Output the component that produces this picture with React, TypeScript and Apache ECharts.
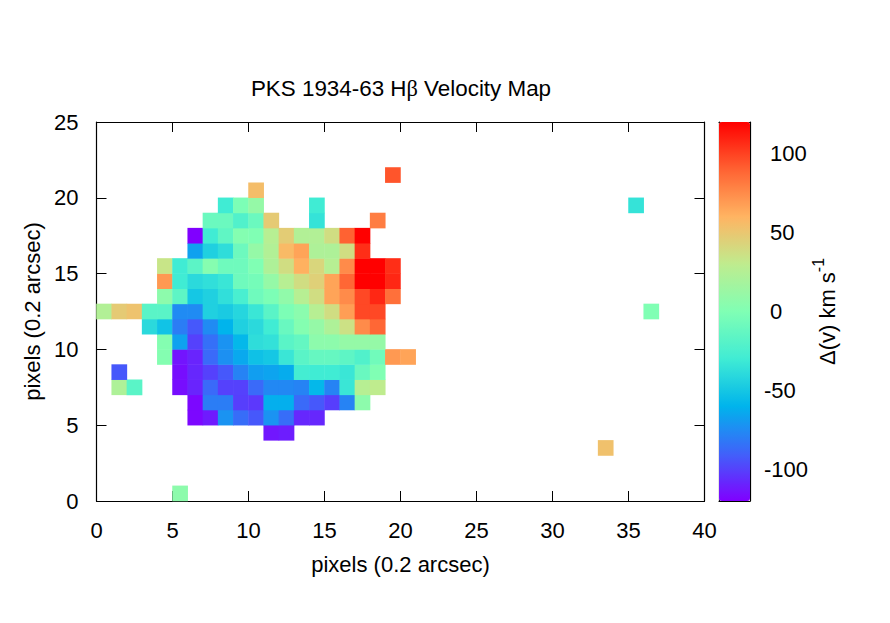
import React, { useEffect, useRef } from "react";
import * as echarts from "echarts";

type Cell = [number, number];

const titleText = "PKS 1934-63 H";
const titleEnd = " Velocity Map";
const xName = "pixels (0.2 arcsec)";
const yName = "pixels (0.2 arcsec)";
const barTicks = [-100, -50, 0, 50, 100];
const barLabelsUpper = [0, 50, 100];
const barLabelsLower = [-100, -50];
const xCount = 40;
const yCount = 25;
const rainbow = ["#8000ff", "#4062fa", "#00b4ec", "#40ecd4", "#80ffb4", "#bfec8e", "#ffb462", "#ff6232", "#ff0000"];

// [column, velocity] for each row of the map
const row0: Cell[] = [[5, 6]];
const row3: Cell[] = [[33, 53]];
const row4: Cell[] = [[11, -113], [12, -111]];
const row5: Cell[] = [[6, -118], [7, -112], [8, -72], [9, -86], [10, -93], [11, -72], [12, -86], [13, -108], [14, -108]];
const row6: Cell[] = [[6, -118], [7, -80], [8, -80], [9, -101], [10, -103], [11, -62], [12, -62], [13, -87], [14, -93], [15, -101], [16, -78], [17, 6]];
const row7: Cell[] = [[1, 22], [2, -18], [5, -116], [6, -109], [7, -87], [8, -100], [9, -100], [10, -87], [11, -76], [12, -76], [13, -78], [14, -58], [15, -78], [16, -33], [17, 26], [18, 30]];
const row8: Cell[] = [[1, -93], [5, -116], [6, -108], [7, -100], [8, -93], [9, -78], [10, -68], [11, -66], [12, -63], [13, -28], [14, -30], [15, -30], [16, -33], [17, -11], [18, 0]];
const row9: Cell[] = [[4, 2], [5, -114], [6, -109], [7, -87], [8, -73], [9, -64], [10, -53], [11, -50], [12, -33], [13, -18], [14, -12], [15, -12], [16, -16], [17, -22], [18, -7], [19, 70], [20, 66]];
const row10: Cell[] = [[4, 2], [5, -67], [6, -100], [7, -85], [8, -72], [9, -58], [10, -38], [11, -36], [12, -18], [13, -13], [14, 6], [15, 6], [16, 10], [17, 10], [18, 10]];
const row11: Cell[] = [[3, -40], [4, -52], [5, -80], [6, -93], [7, -75], [8, -60], [9, -45], [10, -40], [11, -30], [12, -11], [13, 2], [14, 10], [15, 22], [16, 36], [17, 75], [18, 88]];
const row12: Cell[] = [[0, 24], [1, 48], [2, 52], [3, -18], [4, -18], [5, -75], [6, -75], [7, -45], [8, -48], [9, -42], [10, -33], [11, -18], [12, -2], [13, 5], [14, 26], [15, 38], [16, 68], [17, 98], [18, 98], [36, 0]];
const row13: Cell[] = [[4, 6], [5, -16], [6, -50], [7, -45], [8, -37], [9, -26], [10, -8], [11, -2], [12, 8], [13, 26], [14, 38], [15, 66], [16, 75], [17, 98], [18, 108], [19, 85]];
const row14: Cell[] = [[4, 70], [5, -30], [6, -40], [7, -37], [8, -33], [9, -8], [10, -5], [11, 10], [12, 26], [13, 38], [14, 45], [15, 66], [16, 88], [17, 120], [18, 120], [19, 108]];
const row15: Cell[] = [[4, 34], [5, -30], [6, -17], [7, 3], [8, -8], [9, -8], [10, 0], [11, 22], [12, 38], [13, 61], [14, 42], [15, 26], [16, 75], [17, 120], [18, 120], [19, 106]];
const row16: Cell[] = [[6, -67], [7, -45], [8, -38], [9, -9], [10, 10], [11, 24], [12, 57], [13, 66], [14, 22], [15, 22], [16, 38], [17, 106]];
const row17: Cell[] = [[6, -120], [7, -30], [8, -15], [9, 2], [10, 0], [11, 26], [12, 47], [13, 24], [14, 24], [15, 38], [16, 90], [17, 120]];
const row18: Cell[] = [[7, -10], [8, -10], [9, -22], [10, -10], [11, 48], [14, -35], [18, 80]];
const row19: Cell[] = [[8, -30], [9, -2], [10, 10], [14, -30], [35, -35]];
const row20: Cell[] = [[10, 55]];
const row21: Cell[] = [[19, 94]];

const rows: [number, Cell[]][] = [
  [0, row0], [3, row3], [4, row4], [5, row5], [6, row6], [7, row7], [8, row8], [9, row9], [10, row10],
  [11, row11], [12, row12], [13, row13], [14, row14], [15, row15], [16, row16], [17, row17], [18, row18],
  [19, row19], [20, row20], [21, row21],
];

const FONT = "'Liberation Sans', Arial, sans-serif";
const BLACK = "#000";
const line = { show: true, onZero: false, lineStyle: { color: BLACK, width: 1.2 } };
const tick = (length: number) => ({ show: true, inside: true, length, lineStyle: { color: BLACK, width: 1 } });
const label = { show: true, color: BLACK, fontFamily: FONT, fontSize: 22 };

export default function App() {
  const ref = useRef<HTMLDivElement>(null);
  useEffect(() => {
    const chart = echarts.init(ref.current!, undefined, { renderer: "svg" });
    const data = rows.flatMap(([y, cells]) => cells.map(([x, v]) => [x, y, v]));
    const nameStyle = { color: BLACK, fontFamily: FONT, fontSize: 22 };
    chart.setOption({
      animation: false,
      backgroundColor: "#fff",
      title: {
        text: `{a|${titleText}}{b|β}{a|${titleEnd}}`,
        left: 396,
        top: 72,
        textAlign: "center",
        textStyle: {
          fontWeight: "normal",
          rich: {
            a: { fontFamily: FONT, fontSize: 22.4, fontWeight: "normal", color: BLACK },
            b: { fontFamily: "'Liberation Serif', serif", fontSize: 22.4, fontWeight: "normal", color: BLACK },
          },
        },
      },
      grid: [
        { left: 96.5, top: 122, width: 608, height: 379 },
        { left: 719, top: 122, width: 31, height: 379 },
      ],
      xAxis: [
        { type: "category", gridIndex: 0, show: false, data: Array.from({ length: xCount }, (_, i) => String(i)) },
        { type: "value", gridIndex: 0, position: "bottom", min: 0, max: 40, interval: 5, splitLine: { show: false }, axisLine: line, axisTick: tick(10), axisLabel: { ...label, margin: 18 }, name: xName, nameLocation: "middle", nameGap: 52, nameTextStyle: nameStyle },
        { type: "value", gridIndex: 0, position: "top", min: 0, max: 40, interval: 5, splitLine: { show: false }, axisLine: line, axisTick: tick(10), axisLabel: { show: false } },
        { type: "value", gridIndex: 1, position: "bottom", min: 0, max: 1, splitLine: { show: false }, axisLine: line, axisTick: { show: false }, axisLabel: { show: false } },
        { type: "value", gridIndex: 1, position: "top", min: 0, max: 1, splitLine: { show: false }, axisLine: line, axisTick: { show: false }, axisLabel: { show: false } },
      ],
      yAxis: [
        { type: "category", gridIndex: 0, show: false, data: Array.from({ length: yCount }, (_, i) => String(i)) },
        { type: "value", gridIndex: 0, position: "left", min: 0, max: 25, interval: 5, splitLine: { show: false }, axisLine: line, axisTick: tick(10), axisLabel: { ...label, margin: 18, padding: [0, 0, 2, 0] }, name: yName, nameLocation: "middle", nameGap: 52, nameRotate: 90, nameTextStyle: nameStyle },
        { type: "value", gridIndex: 0, position: "right", min: 0, max: 25, interval: 5, splitLine: { show: false }, axisLine: line, axisTick: tick(10), axisLabel: { show: false } },
        { type: "value", gridIndex: 1, position: "left", min: -120, max: 120, splitLine: { show: false }, axisLine: line, axisTick: { ...tick(8), customValues: barTicks }, axisLabel: { show: false } },
        {
          type: "value", gridIndex: 1, position: "right", min: -120, max: 120, splitLine: { show: false }, axisLine: line,
          axisTick: { ...tick(8), customValues: barTicks },
          axisLabel: { ...label, margin: 20, padding: [0, 0, 2, 0], customValues: barLabelsUpper },
          name: "{a|Δ(v) km s}{s|-1}", nameLocation: "middle", nameGap: 58, nameRotate: 90,
          nameTextStyle: {
            ...nameStyle,
            rich: {
              a: { fontFamily: FONT, fontSize: 22, color: BLACK, lineHeight: 28, verticalAlign: "bottom" },
              s: { fontFamily: FONT, fontSize: 16, color: BLACK, lineHeight: 28, verticalAlign: "top" },
            },
          },
        },
        {
          type: "value", gridIndex: 1, position: "right", min: -120, max: 120, splitLine: { show: false }, axisLine: { show: false },
          axisTick: { show: false },
          axisLabel: { ...label, margin: 14, padding: [0, 0, 2, 0], customValues: barLabelsLower },
        },
      ],
      visualMap: {
        type: "continuous",
        seriesIndex: 0,
        dimension: 2,
        min: -120,
        max: 120,
        calculable: false,
        hoverLink: false,
        left: 719,
        top: 122,
        padding: 0,
        itemWidth: 31,
        itemHeight: 379,
        inRange: { color: rainbow },
      },
      series: [
        {
          type: "heatmap",
          xAxisIndex: 0,
          yAxisIndex: 0,
          data,
          label: { show: false },
          emphasis: { disabled: true },
          itemStyle: { borderWidth: 0 },
        },
      ],
    });
    return () => chart.dispose();
  }, []);
  return <div ref={ref} style={{ position: "fixed", left: 0, top: 0, width: 890, height: 623 }} />;
}
